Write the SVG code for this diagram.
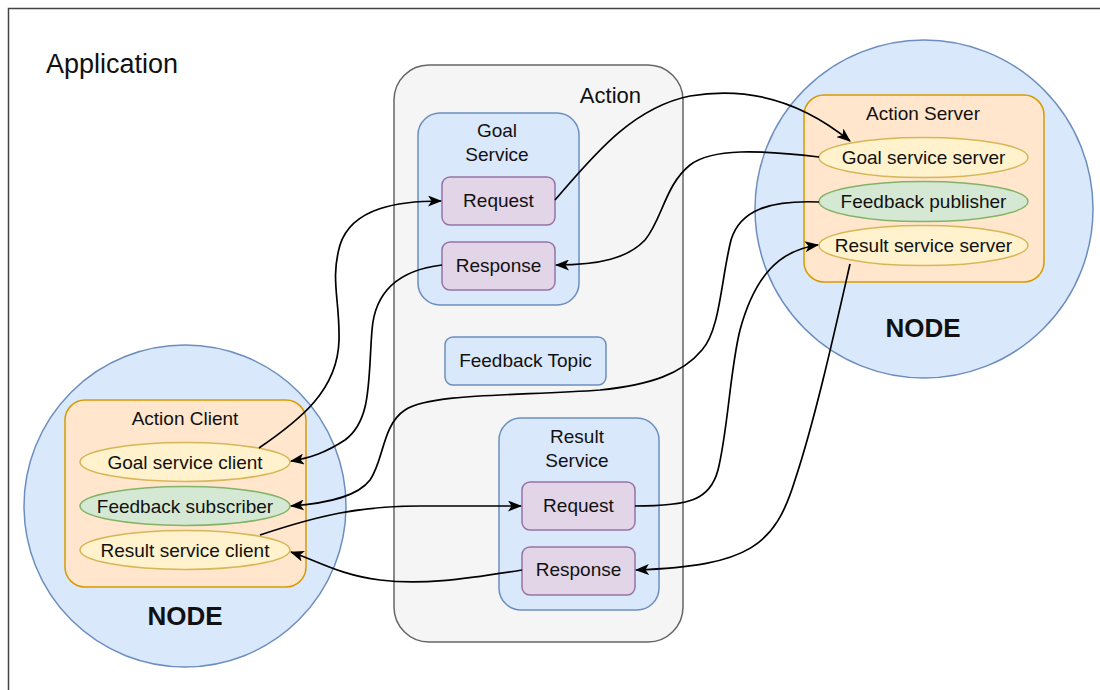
<svg xmlns="http://www.w3.org/2000/svg" width="1100" height="690" viewBox="0 0 1100 690">
<style>
text{font-family:"Liberation Sans",Arial,sans-serif;fill:#111;}
.t19{font-size:19px;text-anchor:middle;}
.blue{fill:#dae8fc;stroke:#6c8ebf;stroke-width:1.5;}
.purple{fill:#e1d5e7;stroke:#9673a6;stroke-width:1.5;}
.orange{fill:#ffe6cc;stroke:#d79b00;stroke-width:1.5;}
.yellow{fill:#fff2cc;stroke:#d6b656;stroke-width:1.5;}
.green{fill:#d5e8d4;stroke:#82b366;stroke-width:1.5;}
.node{fill:#dae8fc;stroke:#6c8ebf;stroke-width:1.5;}
.nodelbl{font-size:26px;font-weight:bold;text-anchor:middle;}
.edge{fill:none;stroke:#000;stroke-width:1.7;marker-end:url(#arr);}
</style>
<defs>
<marker id="arr" viewBox="0 0 14 11" refX="13" refY="5.5" markerWidth="14" markerHeight="11" markerUnits="userSpaceOnUse" orient="auto">
<path d="M0,0 L14,5.5 L0,11 L3.5,5.5 Z" fill="#000"/>
</marker>
</defs>
<rect x="0" y="0" width="1100" height="690" fill="#fff"/>
<g id="application">
<rect x="8.5" y="8.5" width="1200" height="800" fill="#fff" stroke="#444" stroke-width="1.5"/>
<text x="46" y="73" style="font-size:27px">Application</text>
</g>
<g id="action">
<rect x="394" y="65" width="289" height="577" rx="35" fill="#f5f5f5" stroke="#666" stroke-width="1.5"/>
<text x="641" y="103" style="font-size:22px;text-anchor:end">Action</text>
</g>
<g id="goal-service">
<rect x="418" y="113" width="161" height="192" rx="22" class="blue"/>
<text x="497" y="137" class="t19">Goal</text>
<text x="497" y="161" class="t19">Service</text>
</g>
<g id="goal-request">
<rect x="442" y="177" width="113" height="48" rx="8" class="purple"/>
<text x="498.5" y="207" class="t19">Request</text>
</g>
<g id="goal-response">
<rect x="442" y="242" width="113" height="48" rx="8" class="purple"/>
<text x="498.5" y="272" class="t19">Response</text>
</g>
<g id="feedback-topic">
<rect x="445" y="337" width="161" height="48" rx="8" class="blue"/>
<text x="525.5" y="367" class="t19">Feedback Topic</text>
</g>
<g id="result-service">
<rect x="499" y="418" width="160" height="192" rx="22" class="blue"/>
<text x="577" y="443" class="t19">Result</text>
<text x="577" y="467" class="t19">Service</text>
</g>
<g id="result-request">
<rect x="522" y="482" width="113" height="48" rx="8" class="purple"/>
<text x="578.5" y="512" class="t19">Request</text>
</g>
<g id="result-response">
<rect x="522" y="547" width="113" height="48" rx="8" class="purple"/>
<text x="578.5" y="576" class="t19">Response</text>
</g>
<g id="server-node">
<circle cx="924" cy="209" r="169" class="node"/>
<text x="923" y="337" class="nodelbl">NODE</text>
</g>
<g id="action-server">
<rect x="804" y="95" width="240" height="187" rx="20" class="orange"/>
<text x="923" y="120" class="t19">Action Server</text>
</g>
<g id="goal-service-server">
<ellipse cx="923.5" cy="157.5" rx="104.5" ry="20" class="yellow"/>
<text x="923.5" y="164" class="t19">Goal service server</text>
</g>
<g id="feedback-publisher">
<ellipse cx="923.5" cy="201.5" rx="104.5" ry="20" class="green"/>
<text x="923.5" y="208" class="t19">Feedback publisher</text>
</g>
<g id="result-service-server">
<ellipse cx="923.5" cy="245.5" rx="104.5" ry="20" class="yellow"/>
<text x="923.5" y="252" class="t19">Result service server</text>
</g>
<g id="client-node">
<circle cx="185" cy="506" r="161" class="node"/>
<text x="185" y="625" class="nodelbl">NODE</text>
</g>
<g id="action-client">
<rect x="65" y="400" width="241" height="187" rx="20" class="orange"/>
<text x="185" y="425" class="t19">Action Client</text>
</g>
<g id="goal-service-client">
<ellipse cx="185" cy="462" rx="105" ry="19.5" class="yellow"/>
<text x="185" y="468.5" class="t19">Goal service client</text>
</g>
<g id="feedback-subscriber">
<ellipse cx="185" cy="506" rx="105" ry="19.5" class="green"/>
<text x="185" y="512.5" class="t19">Feedback subscriber</text>
</g>
<g id="result-service-client">
<ellipse cx="185" cy="550" rx="105" ry="19.5" class="yellow"/>
<text x="185" y="556.5" class="t19">Result service client</text>
</g>
<g id="connectors">
<path class="edge" d="M259,448 C300,420 338,390 339,340 C340,300 330,280 340,245 C352,207 400,201 441,201"/>
<path class="edge" d="M442,265 C400,270 375,290 372,330 C368,380 372,420 345,440 C325,453 310,458 291,461"/>
<path class="edge" d="M819,157 C760,150 712,148 690,165 C665,185 662,220 645,240 C628,258 600,265 556,265"/>
<path class="edge" d="M555,200 C590,160 630,108 690,96 C760,84 812,110 850,141"/>
<path class="edge" d="M819,202 C770,200 740,210 731,240 C721,280 720,330 702,350 C682,374 650,385 600,390 C520,396 430,393 405,410 C382,425 384,460 370,480 C358,496 330,503 291,506"/>
<path class="edge" d="M260,535 C320,515 360,506 420,506 L521,506"/>
<path class="edge" d="M522,570 C460,580 420,585 380,580 C340,575 320,562 291,552"/>
<path class="edge" d="M635,506 C690,506 710,500 718,470 C728,430 730,370 740,330 C755,275 780,250 818,245"/>
<path class="edge" d="M850,264 C835,330 815,420 795,480 C775,545 750,566 636,570"/>
</g>
</svg>
